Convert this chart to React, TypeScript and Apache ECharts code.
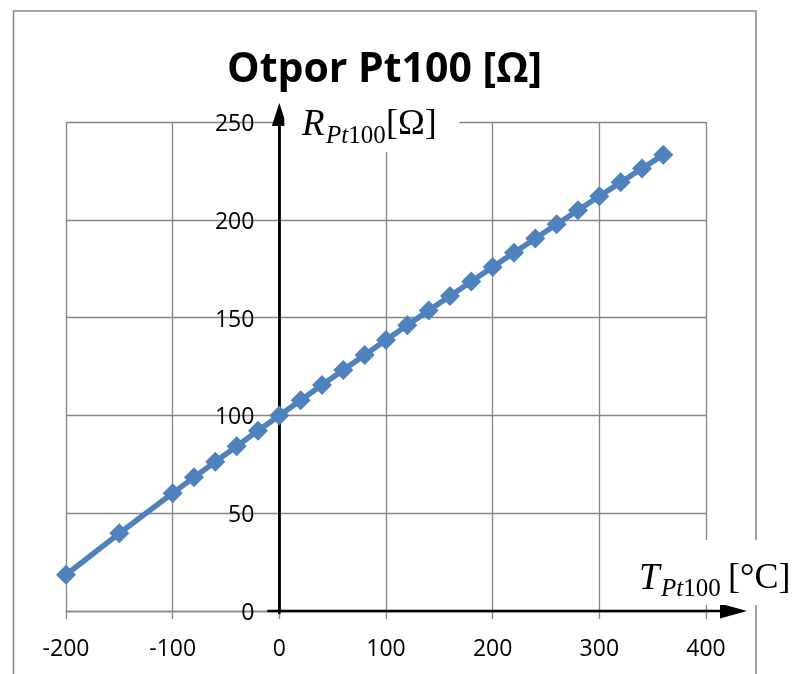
import React, { useEffect, useRef } from "react";
import * as echarts from "echarts";

const temperatures = [-200, -150, -100, -80, -60, -40, -20, 0, 20, 40, 60, 80, 100, 120, 140, 160, 180, 200, 220, 240, 260, 280, 300, 320, 340, 360];
const resistances = [18.52, 39.72, 60.26, 68.33, 76.33, 84.27, 92.16, 100, 107.79, 115.54, 123.24, 130.9, 138.51, 146.07, 153.58, 161.05, 168.48, 175.86, 183.19, 190.47, 197.71, 204.9, 212.05, 219.15, 226.21, 233.21];
const xRange = [-200, 400];
const xStep = 100;
const yRange = [0, 250];
const yStep = 50;
const titleText = "Otpor Pt100 [Ω]";

const GRAY = "#868686";
const BLUE = "#4F81BD";

const GRID = { left: 66, top: 122, right: 86, bottom: 63 };
const WIDTH = 792;
const HEIGHT = 674;

export default function App() {
  const ref = useRef<HTMLDivElement>(null);
  useEffect(() => {
    const chart = echarts.init(ref.current!, null, { renderer: "svg" });
    const gridWidth = WIDTH - GRID.left - GRID.right;
    // y axis crosses x = 0: shift it inward from the grid's left edge
    const yAxisShift = ((0 - xRange[0]) / (xRange[1] - xRange[0])) * gridWidth;
    chart.setOption({
      animation: false,
      grid: { ...GRID, outerBoundsMode: "none", containLabel: false },
      xAxis: {
        type: "value",
        min: xRange[0],
        max: xRange[1],
        interval: xStep,
        axisLine: { show: true, onZero: false, lineStyle: { color: GRAY, width: 1.3 } },
        axisTick: { show: true, inside: false, length: 8, lineStyle: { color: GRAY, width: 1.3 } },
        splitLine: { show: true, lineStyle: { color: GRAY, width: 1.3 } },
        axisLabel: { color: "#000", fontFamily: "Open Sans", fontSize: 23, margin: 24 },
      },
      yAxis: {
        type: "value",
        min: yRange[0],
        max: yRange[1],
        interval: yStep,
        position: "left",
        offset: -yAxisShift,
        axisLine: { show: true, onZero: false, lineStyle: { color: "#000", width: 2.5 } },
        axisTick: { show: false },
        splitLine: { show: true, lineStyle: { color: GRAY, width: 1.3 } },
        axisLabel: { color: "#000", fontFamily: "Open Sans", fontSize: 23, margin: 25 },
      },
      series: [
        {
          type: "line",
          data: temperatures.map((t, i) => [t, resistances[i]]),
          symbol: "diamond",
          symbolSize: 20,
          z: 5,
          lineStyle: { color: BLUE, width: 5.5 },
          itemStyle: { color: BLUE },
        },
      ],
    });

    const o = chart.convertToPixel({ gridIndex: 0 }, [0, 0]) as number[];
    const tr = chart.convertToPixel({ gridIndex: 0 }, [xRange[1], yRange[1]]) as number[];
    const ox = o[0];
    const oy = o[1];
    const top = tr[1];
    const right = tr[0];

    const serif = "Liberation Serif";
    chart.setOption({
      graphic: [
        {
          type: "rect",
          z: 0,
          shape: { x: 13.5, y: 11, width: 742.5, height: 700 },
          style: { fill: "none", stroke: GRAY, lineWidth: 1.5 },
        },
        {
          type: "text",
          z: 20,
          x: 384.5,
          y: 66,
          style: {
            text: titleText,
            font: "bold 41px 'Open Sans'",
            fill: "#000",
            align: "center",
            verticalAlign: "middle",
          },
        },
        // x arrow
        {
          type: "line",
          z: 3,
          shape: { x1: ox - 12, y1: oy, x2: right + 20, y2: oy },
          style: { stroke: "#000", lineWidth: 2.5 },
        },
        {
          type: "polygon",
          z: 3,
          shape: { points: [[right + 41, oy], [right + 14, oy - 7.5], [right + 14, oy + 7.5]] },
          style: { fill: "#000" },
        },
        // y arrow
        {
          type: "line",
          z: 3,
          shape: { x1: ox, y1: oy + 3, x2: ox, y2: top - 2 },
          style: { stroke: "#000", lineWidth: 2.5 },
        },
        {
          type: "polygon",
          z: 3,
          shape: { points: [[ox, top - 19], [ox - 7.5, top + 4], [ox + 7.5, top + 4]] },
          style: { fill: "#000" },
        },
        // label boxes
        {
          type: "rect",
          z: 30,
          shape: { x: ox + 5, y: 95, width: 175, height: 57 },
          style: { fill: "#fff" },
        },
        {
          type: "rect",
          z: 30,
          shape: { x: 632, y: 540, width: 150, height: 65 },
          style: { fill: "#fff" },
        },
        // R label
        {
          type: "text",
          z: 31,
          x: 302,
          y: 122,
          style: { text: "R", font: `italic 37px '${serif}'`, fill: "#000", verticalAlign: "middle" },
        },
        {
          type: "text",
          z: 31,
          x: 326,
          y: 134,
          style: {
            text: "{i|Pt}{n|100}",
            verticalAlign: "middle",
            rich: {
              i: { font: `italic 25px '${serif}'`, fill: "#000" },
              n: { font: `25px '${serif}'`, fill: "#000" },
            },
          },
        },
        {
          type: "text",
          z: 31,
          x: 386,
          y: 122,
          style: { text: "[Ω]", font: `36px '${serif}'`, fill: "#000", verticalAlign: "middle" },
        },
        // T label
        {
          type: "text",
          z: 31,
          x: 639,
          y: 576,
          style: { text: "T", font: `italic 37px '${serif}'`, fill: "#000", verticalAlign: "middle" },
        },
        {
          type: "text",
          z: 31,
          x: 661,
          y: 587,
          style: {
            text: "{i|Pt}{n|100}",
            verticalAlign: "middle",
            rich: {
              i: { font: `italic 25px '${serif}'`, fill: "#000" },
              n: { font: `25px '${serif}'`, fill: "#000" },
            },
          },
        },
        {
          type: "text",
          z: 31,
          x: 728,
          y: 576,
          style: { text: "[°C]", font: `36px '${serif}'`, fill: "#000", verticalAlign: "middle" },
        },
      ],
    });
    return () => chart.dispose();
  }, []);
  return <div ref={ref} style={{ position: "fixed", left: 0, top: 0, width: WIDTH, height: HEIGHT }} />;
}
